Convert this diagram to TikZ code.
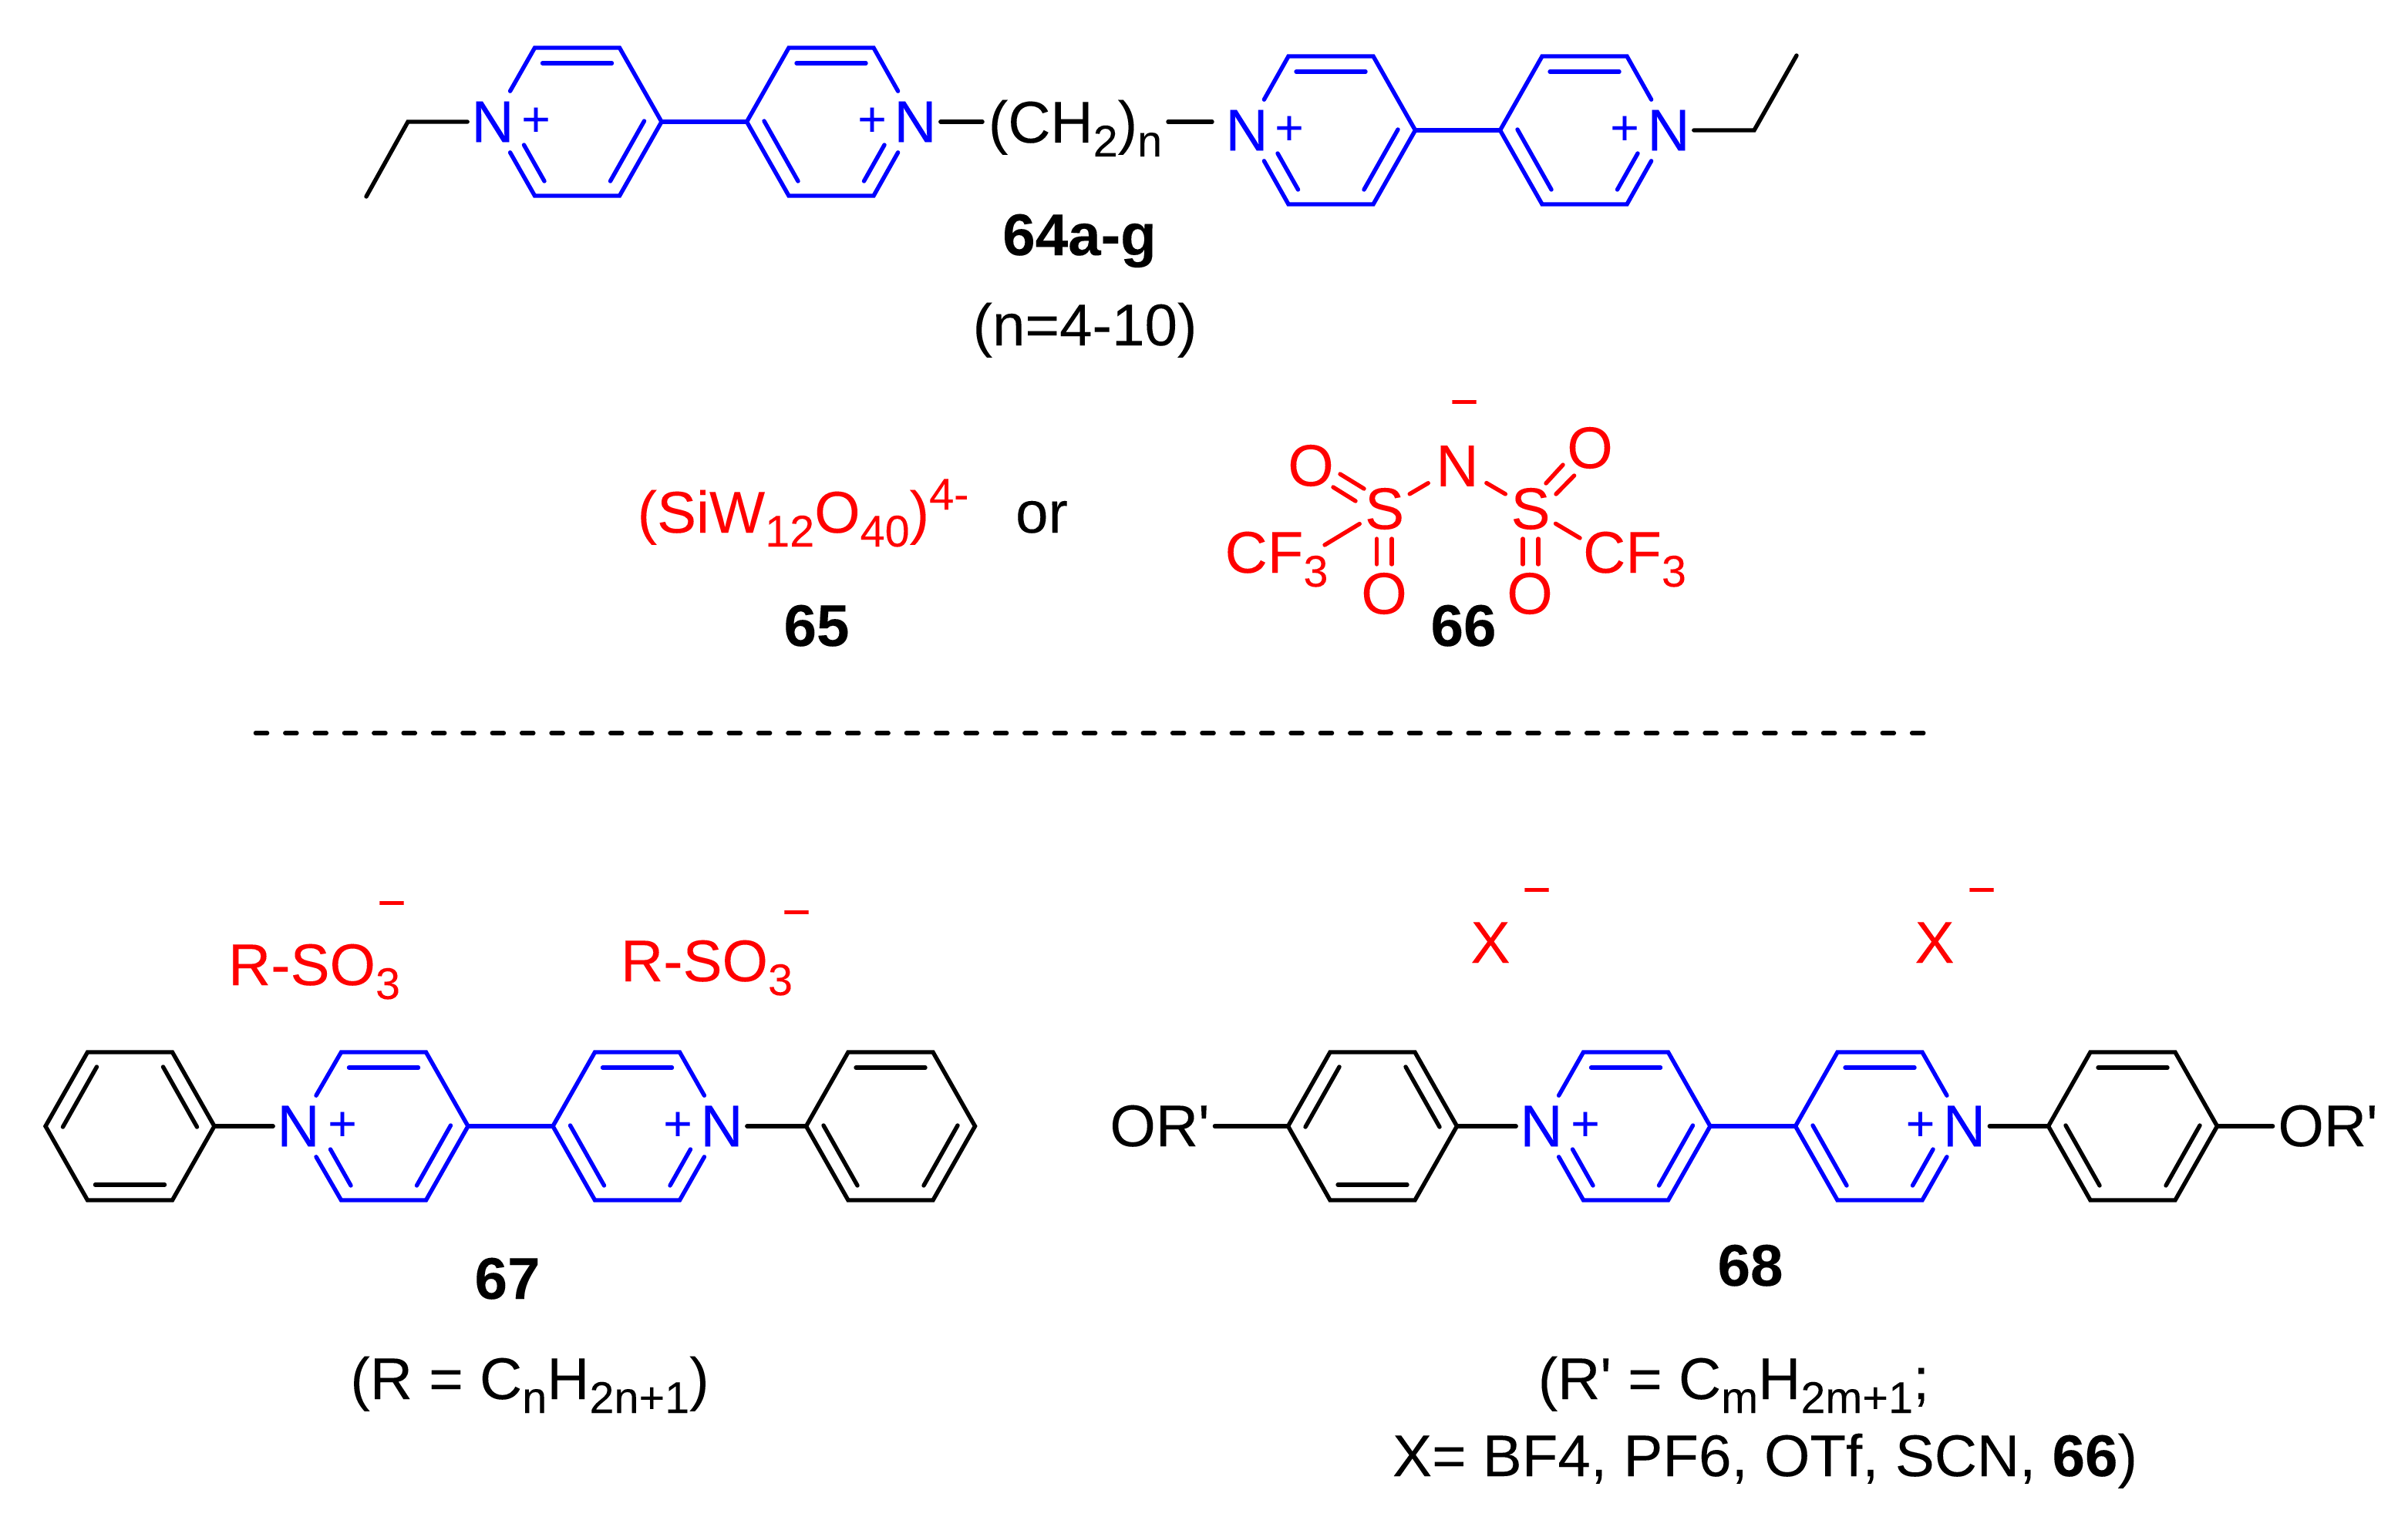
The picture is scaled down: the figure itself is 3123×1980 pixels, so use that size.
\documentclass[tikz,border=0pt]{standalone}
\usepackage{fontspec}
\setmainfont{Liberation Sans}[Ligatures=TeXOff,FakeBold=0.04]
\newcommand{\mainsize}{\fontsize{19.1pt}{23pt}\selectfont}
\newcommand{\subsize}{\fontsize{14.4pt}{17pt}\selectfont}
\newcommand{\lsb}[1]{\raisebox{-4.5pt}{\subsize #1}}
\newcommand{\lsp}[1]{\raisebox{7.5pt}{\subsize #1}}
\definecolor{pblue}{HTML}{0000FF}
\definecolor{pred}{HTML}{FF0000}
\tikzset{
  bond/.style={line width=1.35pt,line cap=round,line join=miter,draw=black},
  bbond/.style={bond,draw=pblue},
  rbond/.style={bond,draw=pred},
  atomN/.style={inner sep=0pt,minimum width=16pt,minimum height=19.5pt,font=\mainsize,text=pblue},
  pluss/.style={inner sep=0pt,font=\fontsize{16pt}{18pt}\selectfont,text=pblue},
  minuss/.style={inner sep=0pt,font=\fontsize{16pt}{18pt}\selectfont,text=pred},
  lbl/.style={inner sep=0pt,anchor=base,font=\mainsize,text=black},
  rlbl/.style={lbl,text=pred},
  blbl/.style={lbl,font=\mainsize\bfseries},
  ratom/.style={circle,inner sep=0pt,font=\mainsize,text=pred},
}
% hexagon vertices and the ends of the inner lines of its double bonds
\newcommand{\hexat}[3]{%
  \coordinate (#1TL) at ({#2-55},{#3-96});
  \coordinate (#1TR) at ({#2+55},{#3-96});
  \coordinate (#1R) at ({#2+109.5},{#3});
  \coordinate (#1BR) at ({#2+55},{#3+96});
  \coordinate (#1BL) at ({#2-55},{#3+96});
  \coordinate (#1L) at ({#2-109.5},{#3});
  \coordinate (#1ta) at ({#2-45},{#3-76});
  \coordinate (#1tb) at ({#2+45},{#3-76});
  \coordinate (#1ba) at ({#2-45},{#3+76});
  \coordinate (#1bb) at ({#2+45},{#3+76});
  \coordinate (#1ula) at ({#2-43},{#3-77});
  \coordinate (#1ulb) at ({#2-87},{#3+1});
  \coordinate (#1ura) at ({#2+43},{#3-77});
  \coordinate (#1urb) at ({#2+87},{#3+1});
  \coordinate (#1lla) at ({#2-87},{#3-1});
  \coordinate (#1llb) at ({#2-43},{#3+77});
  \coordinate (#1lra) at ({#2+87},{#3-1});
  \coordinate (#1lrb) at ({#2+43},{#3+77});
  \coordinate (#1nla) at ({#2-69},{#3+30});
  \coordinate (#1nlb) at ({#2-42.5},{#3+77});
  \coordinate (#1nra) at ({#2+69},{#3+30});
  \coordinate (#1nrb) at ({#2+42.5},{#3+77});
}
% pyridinium with its N on the left: name, cx, cy, N node
\newcommand{\pyrleft}[4]{%
  \hexat{#1}{#2}{#3}
  \draw[bbond] (#4) -- (#1TL) -- (#1TR) -- (#1R) -- (#1BR) -- (#1BL) -- (#4);
  \draw[bbond] (#1ta) -- (#1tb);
  \draw[bbond] (#1lra) -- (#1lrb);
  \draw[bbond] (#1nla) -- (#1nlb);
}
% pyridinium with its N on the right
\newcommand{\pyrright}[4]{%
  \hexat{#1}{#2}{#3}
  \draw[bbond] (#4) -- (#1TR) -- (#1TL) -- (#1L) -- (#1BL) -- (#1BR) -- (#4);
  \draw[bbond] (#1ta) -- (#1tb);
  \draw[bbond] (#1lla) -- (#1llb);
  \draw[bbond] (#1nra) -- (#1nrb);
}
% benzene, double bonds upper left, upper right, bottom
\newcommand{\phenup}[3]{%
  \hexat{#1}{#2}{#3}
  \draw[bond] (#1L) -- (#1TL) -- (#1TR) -- (#1R) -- (#1BR) -- (#1BL) -- cycle;
  \draw[bond] (#1ula) -- (#1ulb);
  \draw[bond] (#1ura) -- (#1urb);
  \draw[bond] (#1ba) -- (#1bb);
}
% benzene, double bonds top, lower left, lower right
\newcommand{\phendown}[3]{%
  \hexat{#1}{#2}{#3}
  \draw[bond] (#1L) -- (#1TL) -- (#1TR) -- (#1R) -- (#1BR) -- (#1BL) -- cycle;
  \draw[bond] (#1ta) -- (#1tb);
  \draw[bond] (#1lla) -- (#1llb);
  \draw[bond] (#1lra) -- (#1lrb);
}
\begin{document}
\begin{tikzpicture}[x=0.25pt,y=-0.25pt]
\useasboundingbox (0,0) rectangle (3123,1980);

% ---------- 64 ----------
\node[atomN] (a1) at (639,158) {N};
\node[pluss] (a1p) at (695,158) {+};
\node[atomN] (a2) at (1187,158) {N};
\node[pluss] (a2p) at (1131,158) {+};
\node[atomN] (a3) at (1617,169) {N};
\node[pluss] (a3p) at (1672,169) {+};
\node[atomN] (a4) at (2164,169) {N};
\node[pluss] (a4p) at (2107,169) {+};
\pyrleft{ra}{748.5}{158}{a1}
\pyrright{rb}{1078}{158}{a2}
\pyrleft{rc}{1726}{169}{a3}
\pyrright{rd}{2055}{169}{a4}
\draw[bbond] (raR) -- (rbL);
\draw[bbond] (rcR) -- (rdL);
\coordinate (e1a) at (529,158);
\coordinate (e1b) at (475,255);
\draw[bond] (a1) -- (e1a) -- (e1b);
\coordinate (e2a) at (2275,169);
\coordinate (e2b) at (2330,72);
\draw[bond] (a4) -- (e2a) -- (e2b);
\node[lbl,inner xsep=1.75pt] (chain) at (1394.5,185) {(CH\lsb{2})\lsb{n}};
\coordinate (linkend) at (1572,158);
\draw[bond] (a2) -- (chain.west |- a2);
\draw[bond] (chain.east |- a2) -- (linkend);
\node[blbl] (l64) at (1400,331) {64a-g};
\node[lbl] (n64) at (1407,448) {(n=4-10)};

% ---------- 65 ----------
\node[rlbl] (sw) at (1041.5,691) {(SiW\lsb{12}O\lsb{40})\lsp{4-}};
\node[lbl] (or) at (1351,691) {or};
\node[blbl] (l65) at (1059,838) {65};

% ---------- 66 ----------
\node[ratom,minimum size=21.5pt] (tn) at (1890,604.5) {N};
\node[minuss] (tnm) at (1899,531) {−};
\node[ratom,minimum size=17pt] (s1) at (1795.6,660) {S};
\node[ratom,minimum size=17pt] (s2) at (1985,660) {S};
\node[ratom] (o1) at (1700,604) {O};
\node[ratom] (o2) at (2062,581) {O};
\node[ratom] (o3) at (1795,770) {O};
\node[ratom] (o4) at (1984,770) {O};
\node[rlbl] (cf1) at (1655.5,743) {CF\lsb{3}};
\node[rlbl] (cf2) at (2120,743) {CF\lsb{3}};
\draw[rbond] (s1) -- (tn);
\draw[rbond] (tn) -- (s2);
\coordinate (c1) at (1718,707);
\coordinate (c2) at (2049,698);
\draw[rbond] (s1) -- (c1);
\draw[rbond] (s2) -- (c2);
\coordinate (d1a) at (1738,615); \coordinate (d1b) at (1769,634);
\coordinate (d2a) at (1729,632); \coordinate (d2b) at (1758,650);
\draw[rbond] (d1a) -- (d1b);
\draw[rbond] (d2a) -- (d2b);
\coordinate (d3a) at (2027,603); \coordinate (d3b) at (2005,627);
\coordinate (d4a) at (2041.6,617); \coordinate (d4b) at (2018,641);
\draw[rbond] (d3a) -- (d3b);
\draw[rbond] (d4a) -- (d4b);
\coordinate (d5a) at (1785.6,699); \coordinate (d5b) at (1785.6,732);
\coordinate (d6a) at (1805,699); \coordinate (d6b) at (1805,732);
\draw[rbond] (d5a) -- (d5b);
\draw[rbond] (d6a) -- (d6b);
\coordinate (d7a) at (1975,699); \coordinate (d7b) at (1975,732);
\coordinate (d8a) at (1995,699); \coordinate (d8b) at (1995,732);
\draw[rbond] (d7a) -- (d7b);
\draw[rbond] (d8a) -- (d8b);
\node[blbl] (l66) at (1898,838) {66};

% ---------- separator ----------
\coordinate (sepa) at (331.5,951);
\coordinate (sepb) at (2495.5,951);
\draw[line width=1.4pt,line cap=round,dash pattern=on 3.75pt off 5.84pt] (sepa) -- (sepb);

% ---------- 67 ----------
\node[rlbl] (rs1) at (407.5,1278) {R-SO\lsb{3}};
\node[minuss] (rs1m) at (508,1181) {−};
\node[rlbl] (rs2) at (916.5,1273) {R-SO\lsb{3}};
\node[minuss] (rs2m) at (1033,1193) {−};
\node[atomN] (b1) at (387,1461) {N};
\node[pluss] (b1p) at (444,1461) {+};
\node[atomN] (b2) at (936,1461) {N};
\node[pluss] (b2p) at (879,1461) {+};
\phenup{pa}{168.5}{1461}
\pyrleft{rf}{497.5}{1461}{b1}
\pyrright{rg}{826.5}{1461}{b2}
\phendown{pb}{1155}{1461}
\draw[bond] (paR) -- (b1);
\draw[bbond] (rfR) -- (rgL);
\draw[bond] (b2) -- (pbL);
\node[blbl] (l67) at (658,1685) {67};
\node[lbl] (n67) at (687,1815) {(R = C\lsb{n}H\lsb{2n+1})};

% ---------- 68 ----------
\node[rlbl] (x1) at (1933,1249) {X};
\node[minuss] (x1m) at (1993,1164) {−};
\node[rlbl] (x2) at (2509,1249) {X};
\node[minuss] (x2m) at (2570,1164) {−};
\node[atomN] (c1n) at (1999,1461) {N};
\node[pluss] (c1p) at (2056,1461) {+};
\node[atomN] (c2n) at (2547.5,1461) {N};
\node[pluss] (c2p) at (2490.5,1461) {+};
\phenup{pc}{1780}{1461}
\pyrleft{rh}{2108.5}{1461}{c1n}
\pyrright{ri}{2438}{1461}{c2n}
\phendown{pd}{2766}{1461}
\draw[bond] (pcR) -- (c1n);
\draw[bbond] (rhR) -- (riL);
\draw[bond] (c2n) -- (pdL);
\node[lbl,inner xsep=1.5pt] (or1) at (1504,1487) {OR'};
\node[lbl,inner xsep=1.5pt] (or2) at (3019,1487) {OR'};
\draw[bond] (or1.east |- pcL) -- (pcL);
\draw[bond] (pdR) -- (or2.west |- pdR);
\node[blbl] (l68) at (2270,1668) {68};
\node[lbl] (n68a) at (2248.5,1815) {(R' = C\lsb{m}H\lsb{2m+1};};
\node[lbl] (n68b) at (2289,1915) {X= BF4, PF6, OTf, SCN, \textbf{66})};
\end{tikzpicture}
\end{document}
